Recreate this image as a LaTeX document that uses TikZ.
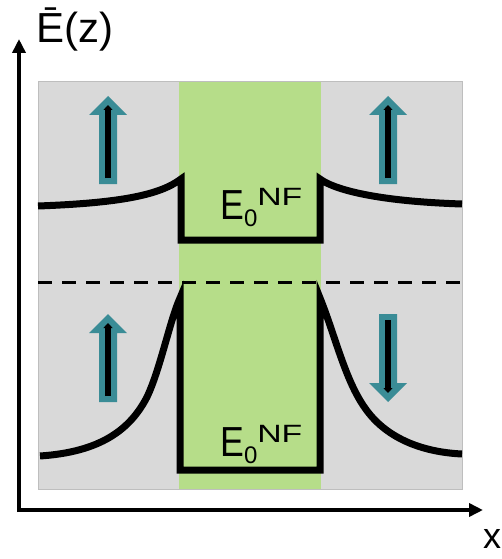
\documentclass[tikz,border=0pt]{standalone}
\usepackage{fontspec}
\setmainfont{Liberation Sans}
\usepackage{graphicx}
\usepackage{tikz}
\usetikzlibrary{arrows.meta}
\definecolor{bggray}{RGB}{217,217,217}
\definecolor{rimgray}{RGB}{190,190,190}
\definecolor{nfgreen}{RGB}{182,221,137}
\definecolor{spinteal}{RGB}{58,140,150}
\tikzset{
    axis/.style={line width=4pt, -{Triangle[length=14pt,width=13pt]}},
    level/.style={line width=7pt},
    fermi/.style={line width=3pt, dash pattern=on 14pt off 10pt},
    spin/.style={fill=spinteal},
    spinline/.style={line width=6pt, -{Triangle[length=5pt,width=9pt]}},
    biglabel/.style={inner sep=0pt, font=\fontsize{42}{42}\selectfont}}
\newcommand{\enf}{\scalebox{0.85}[1]{E}\raisebox{-7pt}{\fontsize{24}{24}\selectfont 0}\raisebox{14pt}{\fontsize{25}{25}\selectfont\scalebox{1.35}[1]{NF}}}

\begin{document}
\begin{tikzpicture}[x=1pt,y=-1pt]
    \useasboundingbox (0,0) rectangle (502,559);

    \fill[bggray, draw=rimgray, line width=1pt] (38,82) rectangle (462,489);
    \fill[nfgreen] (179,82) rectangle (321,489);

    \coordinate (O) at (19,510);
    \coordinate (ytip) at (19,39);
    \coordinate (xtip) at (483,510);
    \draw[axis] (19,512) -- (ytip);
    \draw[axis] (17,510) -- (xtip);

    \node[biglabel, anchor=base west] (elabel) at (36.5,43) {Ē(z)};
    \node[biglabel, anchor=base west, font=\fontsize{36}{36}\selectfont] (xlabel) at (483,548) {x};

    \draw[fermi] (38,282) -- (462,282);

    \draw[level] (38,206) .. controls (120,203) and (160,195) .. (181,179)
        -- (181,240) -- (320,240) -- (320,179)
        .. controls (332,188) and (370,201) .. (462,204);
    \draw[level] (40,456) .. controls (100,452) and (130,430) .. (147,397)
        .. controls (160,370) and (170,320) .. (180,298)
        -- (180,470) -- (320,470) -- (320,298)
        .. controls (335,335) and (345,380) .. (365,408)
        .. controls (385,437) and (420,452) .. (462,454);

    \node[biglabel, anchor=base west] (upnf) at (220,219) {\enf};
    \node[biglabel, anchor=base west] (lownf) at (220,456) {\enf};

    \foreach \bx/\by/\d in {108/184/-1, 388/184/-1, 108/402/-1, 388/314/1}{
        \fill[spin] ({\bx-9},\by) -- ({\bx-9},{\by+69*\d}) -- ({\bx-19},{\by+69*\d})
            -- (\bx,{\by+88*\d}) -- ({\bx+19},{\by+69*\d}) -- ({\bx+9},{\by+69*\d})
            -- ({\bx+9},\by) -- cycle;
        \draw[spinline] (\bx,{\by+6*\d}) -- (\bx,{\by+79*\d});
    }
\end{tikzpicture}
\end{document}
